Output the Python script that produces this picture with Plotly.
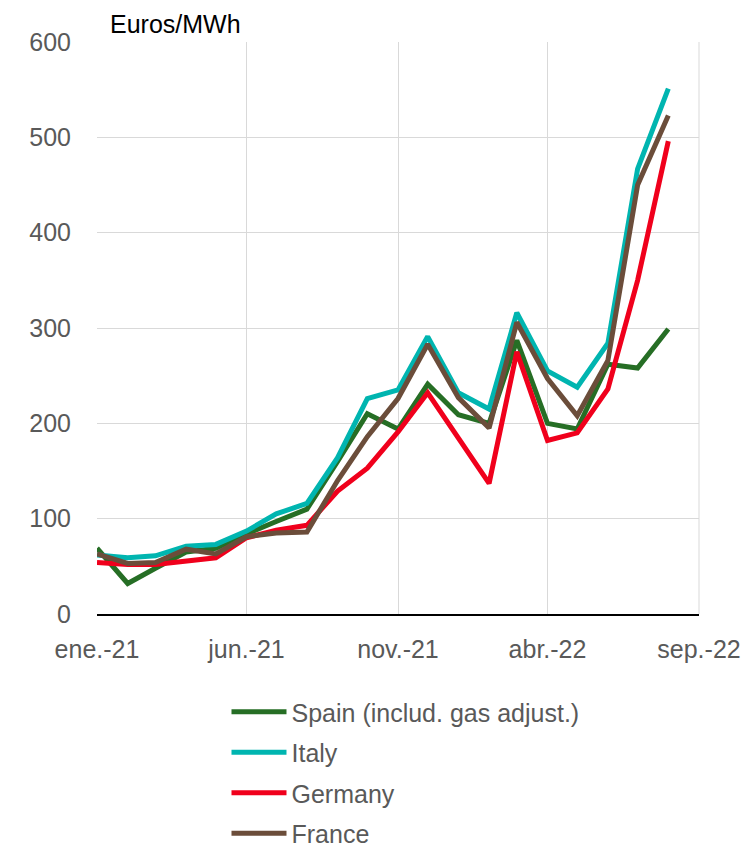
import plotly.graph_objects as go

months = ["2021-01-01","2021-02-01","2021-03-01","2021-04-01","2021-05-01","2021-06-01",
          "2021-07-01","2021-08-01","2021-09-01","2021-10-01","2021-11-01","2021-12-01",
          "2022-01-01","2022-02-01","2022-03-01","2022-04-01","2022-05-01","2022-06-01",
          "2022-07-01","2022-08-01"]

spain   = [69, 32, 48, 65, 69, 84, 97, 110, 160, 210, 194, 241, 209, 200, 287, 200, 194, 262, 258, 299]
italy   = [62, 59, 61, 71, 73, 87, 105, 116, 164, 226, 235, 291, 232, 215, 316, 255, 238, 284, 467, 551]
germany = [54, 52, 52, 55, 59, 80, 88, 93, 129, 153, 191, 232, 184, 137, 275, 182, 190, 236, 350, 496]
france  = [63, 53, 54, 68, 63, 81, 85, 86, 140, 186, 226, 283, 227, 195, 306, 247, 208, 266, 450, 523]

series_names = ["Spain (includ. gas adjust.)", "Italy", "Germany", "France"]
series_colors = ["#266E25", "#00B5B0", "#F0001C", "#6B4D3A"]

tick_vals = ["2021-01-01", "2021-06-01", "2021-11-01", "2022-04-01", "2022-09-01"]
tick_text = ["ene.-21", "jun.-21", "nov.-21", "abr.-22", "sep.-22"]

fig = go.Figure()
for name, vals, col in zip(series_names, [spain, italy, germany, france], series_colors):
    fig.add_trace(go.Scatter(x=months, y=vals, mode="lines", name=name,
                             legendgroup=name,
                             line=dict(color=col, width=5, shape="linear")))

font_fam = "Liberation Sans, Arial, sans-serif"
W, H = 745, 843
fig.update_layout(
    width=W, height=H,
    margin=dict(l=89, r=47, t=34, b=237),
    plot_bgcolor="white", paper_bgcolor="white",
    font=dict(family=font_fam, size=25, color="#595959"),
    showlegend=True,
    legend=dict(orientation="v", xref="paper", x=(228 - 97) / 609, xanchor="left",
                yref="container", y=1 - 681 / H, yanchor="top",
                font=dict(size=25, color="#595959"), tracegroupgap=5,
                itemwidth=55,
                bgcolor="rgba(0,0,0,0)"),
    xaxis=dict(type="date", range=["2021-01-01", "2022-09-01"],
               tickvals=tick_vals, ticktext=tick_text,
               showgrid=True, gridcolor="#D9D9D9", gridwidth=1,
               showline=True, linecolor="black", linewidth=2,
               ticks="", ticklabelstandoff=12, zeroline=False,
               tickfont=dict(size=25, color="#595959")),
    yaxis=dict(range=[0, 600], tickvals=[0, 100, 200, 300, 400, 500, 600],
               showgrid=True, gridcolor="#D9D9D9", gridwidth=1,
               showline=False, zeroline=False, ticks="",
               ticklabelstandoff=25,
               tickfont=dict(size=25, color="#595959")),
    annotations=[dict(text="Euros/MWh", xref="paper", yref="paper",
                      x=(108 - 97) / 609, y=1.0, xanchor="left", yanchor="bottom",
                      yshift=2, showarrow=False,
                      font=dict(size=25, color="black", family=font_fam))],
)
fig.add_shape(type="line", xref="paper", yref="paper", x0=1, x1=1, y0=0, y1=1,
              line=dict(color="#D9D9D9", width=1), layer="below")

fig.write_html("out.html")
